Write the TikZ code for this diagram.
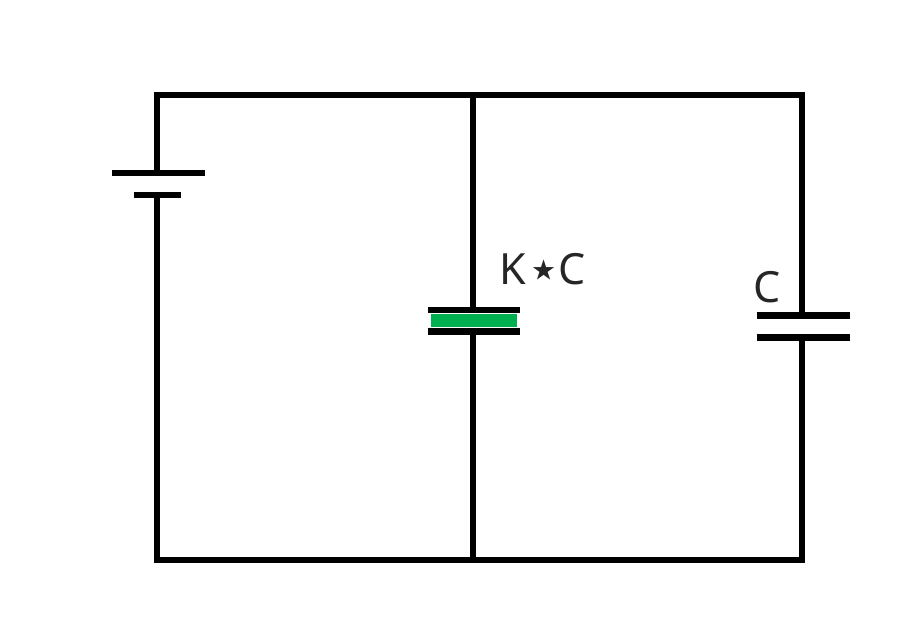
\documentclass[tikz,border=0pt]{standalone}
\usepackage{fontspec}
\setmainfont{Noto Sans}
\newfontfamily\symfont{DejaVu Sans}
\definecolor{dielectric}{RGB}{0,176,80}
\tikzset{
  wire/.style={line width=6pt,line cap=butt,line join=miter,black},
  plate/.style={line width=6.4pt,line cap=butt,black},
  lab/.style={inner sep=0pt,font=\fontsize{43}{43}\selectfont,text=black!85}
}
\begin{document}
\begin{tikzpicture}[x=1pt,y=-1pt]
\useasboundingbox (0,0) rectangle (923,642);
\fill[white] (0,0) rectangle (923,642);
% junctions and corners
\coordinate (tl) at (157,94.5);
\coordinate (tm) at (473,94.5);
\coordinate (tr) at (802,94.5);
\coordinate (bl) at (157,560);
\coordinate (bm) at (473,560);
\coordinate (br) at (802,560);
% battery
\coordinate (b1) at (157,173);
\coordinate (b2) at (157,195);
% middle capacitor
\coordinate (m1) at (473,310);
\coordinate (m2) at (473,331.5);
% right capacitor
\coordinate (r1) at (802,315.5);
\coordinate (r2) at (802,337.5);
% wires
\draw[wire] (b1) -- (tl) -- (tr) -- (r1);
\draw[wire] (r2) -- (br) -- (bl) -- (b2);
\draw[wire] (tm) -- (m1);
\draw[wire] (m2) -- (bm);
% dielectric
\fill[dielectric] (431,314) rectangle (517,327);
% plates
\draw[plate] ([xshift=-45pt]b1) -- ([xshift=48pt]b1);
\draw[plate] ([xshift=-23.5pt]b2) -- ([xshift=23.5pt]b2);
\draw[plate] ([xshift=-45.5pt]m1) -- ([xshift=47pt]m1);
\draw[plate] ([xshift=-45.5pt]m2) -- ([xshift=47pt]m2);
\draw[plate] ([xshift=-45.5pt]r1) -- ([xshift=48pt]r1);
\draw[plate] ([xshift=-45.5pt]r2) -- ([xshift=48pt]r2);
% labels
\node[lab,anchor=base west] (kc) at (499,284) {K\hspace{0.5pt}{\symfont\fontsize{56}{56}\selectfont\raisebox{-4pt}{⋆}}\hspace{-3pt}C};
\node[lab,anchor=base west] (c) at (753,302) {C};
\end{tikzpicture}
\end{document}
